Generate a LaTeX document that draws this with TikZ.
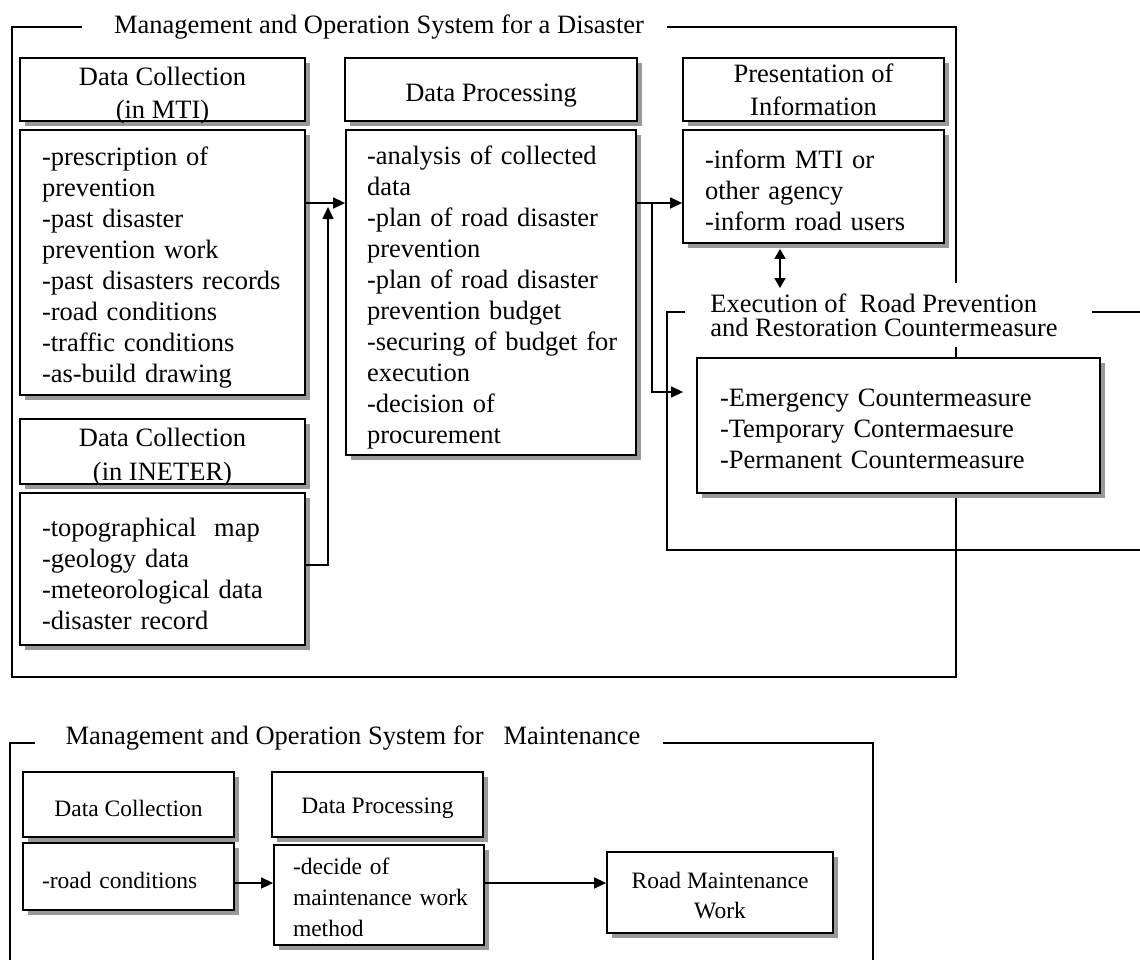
\documentclass[tikz,border=0pt]{standalone}
\usepackage{fontspec}
\setmainfont{Liberation Serif}
\usetikzlibrary{arrows.meta,shadows,calc}

% invisible strut that sets the height of a first text line
\newcommand{\topstrut}[1]{\rule{0pt}{#1}}

\begin{document}
\begin{tikzpicture}[x=1pt,y=-1pt,
  every node/.style={font=\fontsize{26.5}{31}\selectfont},
  small/.style={font=\fontsize{23.5}{31}\selectfont},
  lift/.style={execute at begin node={\rule{0pt}{#1}}},
  box/.style={draw, line width=1.8pt, fill=white,
    general shadow={fill=black!40, shadow xshift=5pt, shadow yshift=-5pt}},
  hdr/.style={box, align=center, inner sep=0pt},
  body/.style={box, align=left},
  frame/.style={line width=1.5pt},
  ttl/.style={fill=white, inner xsep=10pt},
  arr/.style={line width=1.5pt, -{Triangle[length=12pt,width=11pt]}},
  dbl/.style={line width=1.5pt, {Triangle[length=10pt,width=11pt]}-{Triangle[length=10pt,width=11pt]}}
]
\useasboundingbox (0,0) rectangle (1140,959);
\fill[white] (0,0) rectangle (1140,959);
\clip (0,0) rectangle (1140,959);

% ---------- disaster management frame ----------
\draw[frame] (82,27) -- (12,27) -- (12,677) -- (956,677) -- (956,27) -- (667,27);
\node[ttl, fill=none] (dtitle) at (379,27) {Management and Operation System for a Disaster};

% execution sub-frame (open to the right)
\draw[frame] (685,312) -- (667,312) -- (667,550) -- (1160,550);
\draw[frame] (1092,312) -- (1160,312);
\node[ttl, align=left, inner ysep=11pt, font=\fontsize{26.5}{24}\selectfont] (extitle) at (884,315)
  {Execution of\ \ Road Prevention\\and Restoration Countermeasure};

% ---------- data collection (MTI) ----------
\node[hdr, font=\fontsize{26.5}{33}\selectfont, minimum width=285pt, minimum height=63pt] (mtih) at (162.5,89.5)
  {\topstrut{24pt}Data Collection\\\smash{(in MTI)}};
\node[body, lift=29pt, text width=241pt, inner xsep=22pt, minimum height=265pt] (mtib) at (162.5,262.5)
  {-prescription of\\prevention\\-past disaster\\prevention work\\\mbox{-past disasters records}\\-road conditions\\-traffic conditions\\-as-build drawing};

% ---------- data collection (INETER) ----------
\node[hdr, font=\fontsize{26.5}{34}\selectfont, minimum width=285pt, minimum height=65pt] (inh) at (162.5,451.5)
  {\topstrut{24pt}Data Collection\\\smash{(in INETER)}};
\node[body, lift=29pt, text width=241pt, inner xsep=22pt, minimum height=152pt] (inb) at (162.5,569)
  {\mbox{-topographical\ \ map}\\-geology data\\\mbox{-meteorological data}\\-disaster record};

% ---------- data processing ----------
\node[hdr, lift=29pt, minimum width=292pt, minimum height=63pt] (dph) at (491,89.5)
  {Data Processing};
\node[body, lift=29pt, text width=248pt, inner xsep=21pt, minimum height=325pt] (dpb) at (491,292.5)
  {\mbox{-analysis of collected}\\data\\\mbox{-plan of road disaster}\\prevention\\\mbox{-plan of road disaster}\\prevention budget\\\mbox{-securing of budget\ for}\\execution\\-decision of\\procurement};

% ---------- presentation of information ----------
\node[hdr, font=\fontsize{26.5}{33}\selectfont, minimum width=261pt, minimum height=63pt] (prh) at (813.5,89.5)
  {Presentation of\\Information};
\node[body, lift=27pt, text width=217pt, inner xsep=22pt, minimum height=113pt] (prb) at (813.5,186.5)
  {-inform MTI or\\other agency\\\mbox{-inform road users}};

% ---------- countermeasures ----------
\node[body, lift=25pt, text width=357pt, inner xsep=23pt, minimum height=135pt] (exb) at (898.5,425.5)
  {-Emergency Countermeasure\\-Temporary Contermaesure\\-Permanent Countermeasure};

% ---------- connectors (disaster) ----------
\coordinate (r1) at (0,203);
\coordinate (jn) at (328,565);
\coordinate (br) at (652,203);
\coordinate (ex) at (0,392);
\coordinate (da) at (780,288);
\draw[arr] (mtib.east |- r1) -- (dpb.west |- r1);
\draw[arr, shorten >=4pt] (inb.east |- jn) -- (jn) -- (jn |- r1);
\draw[arr] (dpb.east |- r1) -- (prb.west |- r1);
\draw[arr, shorten >=13pt] (br) |- (exb.west |- ex);
\draw[dbl] ($(prb.south -| da)+(0,5)$) -- (da);

% ---------- maintenance frame ----------
\draw[frame] (35,743) -- (10,743) -- (10,975);
\draw[frame] (663,743) -- (873,743) -- (873,975);
\node[ttl, fill=none] (mtitle) at (353,738) {Management and Operation System for\ \ \ Maintenance};

\node[hdr, small, lift=24pt, minimum width=211pt, minimum height=65pt] (mdch) at (128.5,804.5)
  {Data Collection};
\node[body, small, lift=24pt, text width=173pt, inner xsep=19pt, minimum height=67pt] (rcb) at (128.5,876.5)
  {\mbox{-road conditions}};
\node[hdr, small, lift=24pt, minimum width=211pt, minimum height=65pt] (mdph) at (377.5,804.5)
  {Data Processing};
\node[body, small, lift=22pt, text width=172pt, inner xsep=19pt, minimum height=100pt] (mdpb) at (379,895)
  {-decide of\\\mbox{maintenance work}\\method};
\node[hdr, small, font=\fontsize{23.5}{30}\selectfont, minimum width=226pt, minimum height=81pt] (rm) at (720,892.5)
  {\topstrut{23pt}Road Maintenance\\Work};

\coordinate (r4) at (0,883);
\draw[arr] (rcb.east |- r4) -- (mdpb.west |- r4);
\draw[arr] (mdpb.east |- r4) -- (rm.west |- r4);
\end{tikzpicture}
\end{document}
